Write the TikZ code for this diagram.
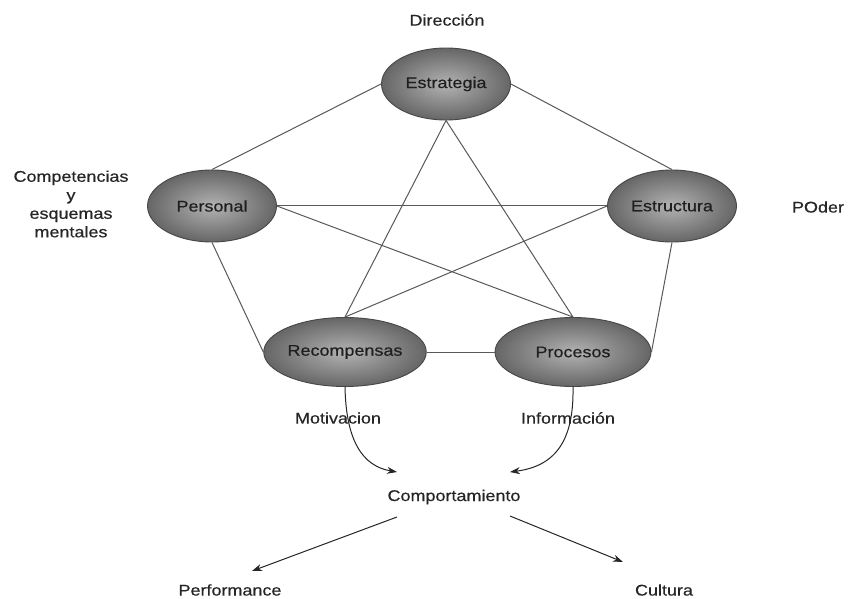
\documentclass[tikz,border=0pt]{standalone}
\usepackage{fontspec}
\setmainfont{Liberation Sans}[FakeStretch=1.16, FakeBold=0.4]
\usetikzlibrary{shapes.geometric,arrows.meta}
\begin{document}
\begin{tikzpicture}[x=1pt,y=-1pt,
  font=\fontsize{15.5}{19}\selectfont,
  hub/.style={ellipse, draw=black!72, line width=0.9pt,
    inner color=black!30, outer color=black!60,
    minimum width=129pt, minimum height=72pt, inner sep=0pt, text=black!88},
  widehub/.style={hub, minimum width=156pt, minimum height=69pt},
  link/.style={draw=black!65, line width=1pt},
  flow/.style={draw=black!85, line width=1pt, -{Stealth[length=10pt,width=7pt]}},
  lbl/.style={text=black!85, inner sep=1pt}]
\useasboundingbox (0,0) rectangle (852,599);
\fill[white] (0,0) rectangle (852,599);

% the five hubs
\node[hub] (estr) at (446,84) {Estrategia};
\node[hub] (pers) at (212,206) {Personal};
\node[hub] (estu) at (672,206) {Estructura};
\node[widehub] (reco) at (345,352) {Recompensas};
\node[widehub] (proc) at (573,352) {Procesos};

% outer pentagon
\draw[link] (estr.west) -- (pers.north);
\draw[link] (estr.east) -- (estu.north);
\draw[link] (pers.south) -- (reco.west);
\draw[link] (estu.south) -- (proc.east);
\draw[link] (reco.east) -- (proc.west);
% inner star
\draw[link] (pers.east) -- (estu.west);
\draw[link] (estr.south) -- (reco.north);
\draw[link] (estr.south) -- (proc.north);
\draw[link] (pers.east) -- (proc.north);
\draw[link] (estu.west) -- (reco.north);

% side labels
\node[lbl] (dir) at (447,20) {Dirección};
\node[lbl, align=center, font=\fontsize{15.5}{18.5}\selectfont] (comp) at (71,204) {Competencias\\y\\esquemas\\mentales};
\node[lbl] (poder) at (818,207) {POder};

% flows into behaviour
\node[lbl] (moti) at (338,418) {Motivacion};
\node[lbl] (info) at (568,418) {Información};
\node[lbl] (beh) at (454,497) {Comportamiento};
\coordinate (behL) at (397,472);
\coordinate (behR) at (510,472);
\draw[flow] (reco.south) .. controls (346,440) and (362,466) .. (behL);
\draw[flow] (proc.south) .. controls (574,440) and (556,466) .. (behR);

% outcomes
\node[lbl] (perf) at (230,590) {Performance};
\node[lbl] (cult) at (664,590) {Cultura};
\coordinate (behSW) at (397,517);
\coordinate (behSE) at (510,516);
\draw[flow] (behSW) -- (252,571);
\draw[flow] (behSE) -- (623,562);
\end{tikzpicture}
\end{document}
